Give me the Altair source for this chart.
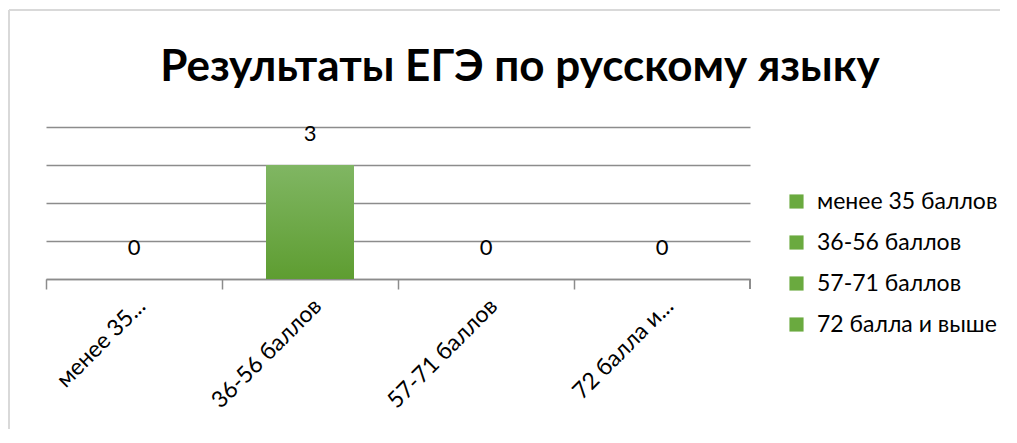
import altair as alt
import pandas as pd

categories = ["менее 35 баллов", "36-56 баллов", "57-71 баллов", "72 балла и выше"]
values = [0, 3, 0, 0]
tick_labels = ["менее 35...", "36-56 баллов", "57-71 баллов", "72 балла и..."]
title_text = "Результаты ЕГЭ по русскому языку"

df = pd.DataFrame({"cat": categories, "val": values, "lab": tick_labels})

W, H = 704, 152
FONT = "Lato"
GREEN = "#6aaa3f"
GRID = "#8c8c8c"

y_enc = alt.Y("val:Q", scale=alt.Scale(domain=[0, 4]),
              axis=alt.Axis(title=None, labels=False, ticks=False, domain=False,
                            values=[0, 1, 2, 3, 4], grid=True, gridColor=GRID,
                            gridWidth=1.5))
band = alt.Scale(paddingInner=0.5, paddingOuter=0.25)

base = alt.Chart(df)

bars_legend = base.mark_bar().encode(
    x=alt.X("cat:N", sort=categories, scale=band,
            axis=alt.Axis(title=None, labels=False, bandPosition=-0.5, tickSize=10,
                          tickColor=GRID, domainColor=GRID, tickWidth=1.5,
                          domainWidth=1.5, grid=False)),
    y=y_enc,
    color=alt.Color("cat:N", sort=categories,
                    scale=alt.Scale(domain=categories, range=[GREEN] * 4),
                    legend=alt.Legend(title=None, orient="none", legendX=739, legendY=63,
                                      symbolType="square", symbolSize=200,
                                      symbolStrokeWidth=0, labelFont=FONT,
                                      labelFontSize=23, labelColor="#000000",
                                      rowPadding=17, labelOffset=9, padding=0,
                                      labelLimit=400)),
)

grad = alt.Gradient(gradient="linear", x1=0, x2=0, y1=0, y2=1,
                    stops=[alt.GradientStop(color="#80b663", offset=0),
                           alt.GradientStop(color="#5e9d31", offset=1)])

bars_grad = base.mark_bar(color=grad).encode(
    x=alt.X("cat:N", sort=categories, scale=band, axis=None),
    y=y_enc,
)

value_text = base.mark_text(font=FONT, fontSize=22, dy=-31, baseline="middle",
                            color="#000000").encode(
    x=alt.X("cat:N", sort=categories, scale=band, axis=None),
    y=y_enc,
    text=alt.Text("val:Q"),
)

cat_text = base.mark_text(font=FONT, fontSize=23, angle=315, align="right",
                          baseline="top", color="#000000").encode(
    x=alt.X("cat:N", sort=categories, scale=band, axis=None),
    y=alt.value(H + 16),
    text=alt.Text("lab:N"),
)

end_tick = base.mark_rule(color=GRID, strokeWidth=1.5).encode(
    x=alt.value(W), y=alt.value(H), y2=alt.value(H + 10))

border_top = base.mark_rule(color="#d9d9d9", strokeWidth=2).encode(
    x=alt.value(-37), x2=alt.value(W + 300), y=alt.value(-117))
border_left = base.mark_rule(color="#d9d9d9", strokeWidth=2).encode(
    x=alt.value(-37), y=alt.value(-117), y2=alt.value(H + 200))

chart = alt.layer(
    bars_legend, bars_grad, value_text, cat_text, end_tick, border_top, border_left
).resolve_scale(x="independent").properties(
    width=W, height=H,
    title=alt.TitleParams(title_text, font=FONT, fontSize=44, fontWeight="bold",
                          color="#000000", anchor="middle", dx=122, offset=-81),
    autosize=alt.AutoSizeParams(type="none"),
    padding={"left": 38, "top": 119, "right": 250, "bottom": 150},
).configure(background="white").configure_view(stroke=None)

chart.save("out.html", embed_options={"renderer": "svg", "actions": False})
